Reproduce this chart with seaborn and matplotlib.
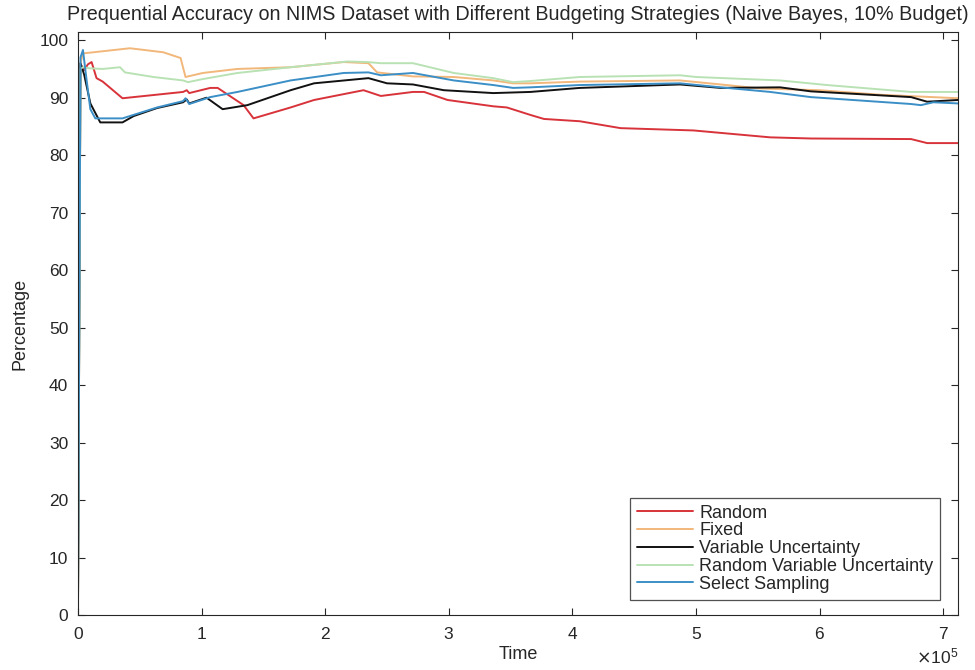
import numpy as np
import pandas as pd
import matplotlib
matplotlib.use("Agg")
import matplotlib.pyplot as plt
import matplotlib.ticker as mticker
import seaborn as sns

# Time in units of 1e5 samples, accuracy in percent
random_t = [0, 0.01, 0.03, 0.05, 0.08, 0.11, 0.15, 0.2, 0.36, 0.85, 0.88, 0.9, 1.07, 1.13, 1.34, 1.42,
            1.72, 1.91, 2.31, 2.45, 2.71, 2.8, 2.99, 3.36, 3.47, 3.66, 3.77, 4.06, 4.39, 4.98, 5.6,
            5.93, 6.74, 6.87, 7.12]
random_v = [2, 94.5, 95.5, 94.8, 95.8, 96.2, 93.4, 92.8, 89.9, 91.0, 91.3, 90.8, 91.7, 91.7, 88.7, 86.4,
            88.3, 89.6, 91.3, 90.3, 91.0, 91.0, 89.6, 88.5, 88.3, 87.0, 86.3, 85.9, 84.7, 84.3, 83.1,
            82.9, 82.8, 82.1, 82.1]

fixed_t = [0, 0.02, 0.04, 0.42, 0.69, 0.83, 0.87, 1.01, 1.29, 1.72, 2.15, 2.35, 2.42, 2.71, 3.04,
           3.36, 3.52, 3.66, 4.06, 4.87, 5.2, 5.52, 6.0, 6.5, 7.12]
fixed_v = [2, 96, 97.7, 98.6, 97.9, 96.9, 93.6, 94.3, 95.0, 95.3, 96.2, 96.0, 94.4, 93.7, 93.6,
           93.0, 92.5, 92.5, 92.8, 93.0, 92.3, 91.6, 91.3, 90.5, 89.9]

varunc_t = [0, 0.02, 0.05, 0.1, 0.18, 0.36, 0.45, 0.64, 0.85, 0.88, 0.9, 1.04, 1.17, 1.37, 1.72,
            1.91, 2.35, 2.5, 2.71, 2.96, 3.36, 3.66, 4.06, 4.87, 5.2, 5.68, 5.93, 6.74, 6.87, 7.12]
varunc_v = [2, 96, 94, 89, 85.7, 85.7, 86.8, 88.2, 89.2, 89.7, 89.0, 90.0, 88.0, 88.7, 91.3,
            92.5, 93.4, 92.5, 92.3, 91.3, 90.8, 91.0, 91.7, 92.3, 91.7, 91.8, 91.1, 90.1, 89.3, 89.6]

rvu_t = [0, 0.02, 0.04, 0.1, 0.2, 0.34, 0.38, 0.61, 0.85, 0.89, 1.0, 1.29, 1.72, 2.18, 2.34, 2.45,
         2.71, 3.04, 3.36, 3.52, 3.66, 4.06, 4.87, 5.0, 5.68, 6.06, 6.74, 7.12]
rvu_v = [2, 95, 95.3, 95.1, 95.0, 95.3, 94.4, 93.6, 93.0, 92.7, 93.2, 94.3, 95.3, 96.3, 96.2, 96.0,
         96.0, 94.3, 93.4, 92.7, 92.9, 93.6, 93.9, 93.6, 93.0, 92.2, 91.0, 91.0]

select_t = [0, 0.02, 0.04, 0.07, 0.1, 0.14, 0.36, 0.64, 0.85, 0.87, 0.9, 1.07, 1.29, 1.72, 2.15,
            2.35, 2.45, 2.71, 3.04, 3.36, 3.52, 3.66, 4.06, 4.87, 5.2, 5.6, 5.93, 6.74, 6.82, 6.92, 7.12]
select_v = [3, 97, 98.3, 93, 88, 86.4, 86.4, 88.3, 89.4, 89.9, 88.9, 90.1, 91.0, 93.0, 94.3,
            94.4, 93.9, 94.3, 93.0, 92.2, 91.7, 91.8, 92.2, 92.5, 91.8, 91.0, 90.1, 88.9, 88.7, 89.2, 89.0]

series_names = ["Random", "Fixed", "Variable Uncertainty", "Random Variable Uncertainty", "Select Sampling"]
series_t = [random_t, fixed_t, varunc_t, rvu_t, select_t]
series_v = [random_v, fixed_v, varunc_v, rvu_v, select_v]
colors = ["#d8333a", "#f2b77a", "#111111", "#b9e2b4", "#3b8fc6"]

frames = []
for name, t, v in zip(series_names, series_t, series_v):
    frames.append(pd.DataFrame({"Time": np.array(t) * 1e5, "Percentage": v, "Strategy": name}))
df = pd.concat(frames, ignore_index=True)

sns.set_style("white")
plt.rcParams["font.family"] = ["Liberation Sans", "DejaVu Sans"]

fig = plt.figure(figsize=(9.75, 6.7), dpi=100)
ax = fig.add_axes([0.08, 0.0821, 0.9026, 0.8699])

sns.lineplot(data=df, x="Time", y="Percentage", hue="Strategy", hue_order=series_names,
             palette=colors, linewidth=1.4, sort=False, estimator=None, ax=ax)

ax.set_xlim(0, 7.12e5)
ax.set_ylim(0, 101.4)
ax.set_yticks(np.arange(0, 101, 10))
ax.set_xticks(np.arange(0, 7.1e5, 1e5))
fmt = mticker.ScalarFormatter(useMathText=True)
fmt.set_powerlimits((0, 0))
ax.xaxis.set_major_formatter(fmt)
ax.xaxis.get_offset_text().set_fontsize(12.5)
ax.xaxis.get_offset_text().set_color("#333333")

ax.tick_params(direction="in", length=5, width=0.8, labelsize=12.5, colors="#262626",
               top=True, right=True, bottom=True, left=True)
ax.tick_params(axis="y", pad=7)
ax.tick_params(axis="x", pad=8)
for sp in ax.spines.values():
    sp.set_color("#262626")
    sp.set_linewidth(0.8)

ax.set_xlabel("Time", fontsize=13, labelpad=3)
ax.set_ylabel("Percentage", fontsize=13, labelpad=8)
ax.set_title("Prequential Accuracy on NIMS Dataset with Different Budgeting Strategies (Naive Bayes, 10% Budget)",
             fontsize=14.2, pad=9)

leg = ax.legend(loc="lower right", bbox_to_anchor=(0.98, 0.026), fontsize=13, frameon=True,
                fancybox=False, edgecolor="#262626", handlelength=3.1, handletextpad=0.35,
                labelspacing=0.04, borderpad=0.4, borderaxespad=0.0)
leg.get_frame().set_linewidth(0.9)

fig.savefig("out.png", dpi=100)
